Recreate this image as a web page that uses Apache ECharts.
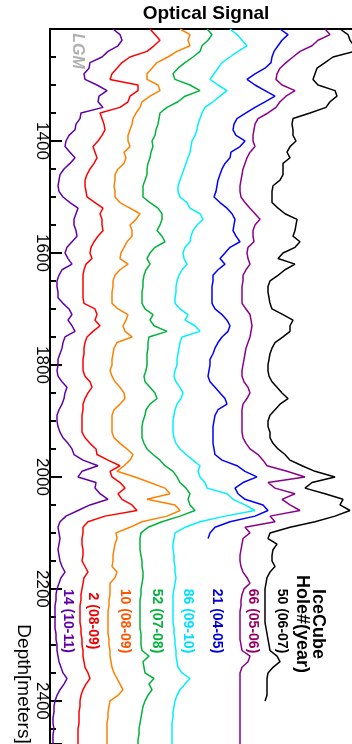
<!DOCTYPE html>
<html>
<head>
<meta charset="utf-8">
<script src="https://cdn.jsdelivr.net/npm/echarts@6/dist/echarts.min.js"></script>
<style>
  html, body { margin: 0; padding: 0; background: #fff; }
  #chart { width: 352px; height: 744px; }
</style>
</head>
<body>
<div id="chart"></div>
<script>
// depth grid: every 10 m from 1200 m
const depthStart = 1200
const depthStep = 10
const depthTicks = [1400, 1600, 1800, 2000, 2200, 2400]

// signal (offset units = px right of the depth axis)
const hole14 = [
  63, 70, 72, 68, 58, 52, 40, 39, 34, 35,
  47, 57, 49, 48, 53, 31, 30, 26, 25, 19,
  16, 15, 20, 25, 20, 14, 10, 9, 8, 9,
  13, 20, 28, 26, 24, 24, 26, 27, 22, 17,
  15, 18, 22, 12, 9, 7, 7, 8, 8, 13,
  19, 22, 18, 22, 25, 15, 13, 12, 10, 8,
  8, 7, 8, 12, 17, 15, 14, 12, 9, 7,
  7, 8, 10, 13, 18, 22, 24, 33, 48, 32,
  28, 46, 45, 50, 58, 40, 28, 16, 10, 8,
  9, 10, 9, 8, 9, 10, 12, 15, 11, 9,
  7, 6, 6, 5, 5, 5, 5, 5, 6, 6,
  7, 7, 8, 9, 11, 13, 17, 14, 10, 7,
  5, 4, 4, 3, 3, 4, 3, 3, 3
]
const hole2 = [
  100, 105, 110, 104, 97, 80, 72, 67, 62, 60,
  88, 88, 80, 78, 70, 50, 52, 54, 55, 52,
  48, 43, 45, 47, 44, 40, 37, 35, 35, 36,
  37, 45, 53, 50, 52, 52, 53, 48, 44, 41,
  40, 42, 36, 34, 33, 33, 33, 33, 33, 34,
  45, 47, 45, 50, 43, 37, 35, 34, 34, 33,
  33, 33, 35, 40, 42, 38, 35, 33, 33, 32,
  32, 32, 32, 35, 40, 46, 47, 58, 70, 60,
  62, 70, 75, 68, 72, 82, 87, 55, 38, 33,
  33, 32, 32, 33, 33, 32, 35, 38, 34, 33,
  32, 31, 31, 30, 30, 30, 30, 31, 31, 32,
  32, 33, 33, 34, 35, 38, 40, 36, 33, 31,
  30, 30, 29, 29, 29, 28, 28, 28, 28
]
const hole10 = [
  130, 140, 138, 140, 127, 118, 107, 102, 97, 97,
  108, 110, 100, 92, 90, 86, 83, 82, 80, 78,
  78, 80, 74, 76, 74, 68, 65, 65, 64, 65,
  65, 70, 80, 90, 86, 80, 82, 82, 77, 74,
  71, 70, 78, 70, 65, 63, 63, 62, 62, 62,
  68, 78, 76, 73, 75, 82, 67, 64, 63, 62,
  62, 60, 62, 65, 70, 74, 75, 70, 64, 62,
  62, 62, 62, 64, 70, 77, 83, 80, 74, 67,
  85, 100, 115, 120, 97, 125, 130, 117, 92, 80,
  66, 67, 65, 64, 63, 63, 62, 67, 65, 60,
  60, 60, 59, 59, 58, 58, 58, 58, 58, 59,
  59, 60, 60, 61, 62, 64, 67, 70, 73, 68,
  60, 59, 58, 58, 57, 57, 57, 57, 57
]
const hole52 = [
  157, 162, 158, 152, 150, 143, 135, 128, 123, 125,
  140, 150, 135, 128, 117, 110, 109, 108, 106, 105,
  102, 103, 101, 100, 98, 97, 97, 95, 93, 93,
  93, 100, 108, 112, 112, 110, 107, 112, 115, 105,
  100, 97, 100, 96, 94, 93, 93, 92, 92, 92,
  95, 103, 100, 104, 117, 99, 98, 98, 97, 97,
  97, 96, 94, 95, 100, 105, 107, 100, 96, 95,
  93, 92, 92, 92, 94, 97, 103, 110, 115, 123,
  127, 130, 136, 140, 138, 140, 145, 130, 112, 98,
  91, 90, 90, 90, 91, 92, 92, 93, 93, 92,
  91, 91, 90, 90, 90, 90, 90, 90, 91, 91,
  91, 92, 99, 93, 94, 95, 104, 99, 102, 98,
  95, 93, 92, 91, 90, 89, 89, 88, 88
]
const hole86 = [
  180, 187, 192, 197, 188, 180, 172, 168, 164, 160,
  168, 177, 170, 163, 155, 152, 150, 148, 147, 145,
  142, 141, 140, 138, 136, 134, 132, 130, 128, 128,
  130, 137, 140, 150, 153, 147, 143, 141, 140, 135,
  133, 134, 137, 132, 129, 127, 126, 126, 125, 125,
  130, 138, 135, 145, 150, 132, 130, 129, 128, 127,
  127, 125, 124, 126, 130, 133, 131, 127, 125, 124,
  123, 123, 123, 124, 126, 130, 136, 143, 150, 148,
  150, 155, 157, 177, 183, 195, 205, 175, 150, 135,
  125, 124, 123, 123, 124, 124, 125, 125, 126, 125,
  124, 123, 123, 123, 123, 123, 123, 124, 124, 125,
  125, 126, 126, 127, 128, 132, 140, 135, 130, 127,
  125, 124, 123, 123, 122, 122, 122, 122, 122
]
const hole21 = [
  230, 238, 232, 228, 224, 222, 221, 215, 205, 197,
  205, 215, 225, 215, 205, 196, 187, 184, 183, 186,
  195, 190, 181, 180, 175, 172, 170, 168, 167, 166,
  164, 170, 177, 182, 185, 184, 183, 186, 190, 180,
  175, 170, 175, 168, 163, 163, 162, 162, 162, 162,
  165, 172, 177, 180, 178, 172, 168, 165, 163, 160,
  160, 159, 158, 160, 165, 170, 175, 177, 168, 165,
  164, 163, 163, 163, 163, 164, 165, 172, 187, 195,
  207, 193, 185, 188, 195, 213, 218, 205, 180, 165,
  160, 158
]
const hole66 = [
  275, 280, 268, 262, 250, 243, 236, 230, 227, 226,
  232, 245, 236, 230, 226, 218, 208, 205, 204, 203,
  203, 205, 200, 197, 195, 193, 192, 191, 190, 190,
  191, 195, 200, 205, 210, 205, 203, 203, 204, 198,
  197, 198, 200, 196, 193, 193, 192, 192, 192, 192,
  196, 200, 201, 202, 201, 200, 198, 196, 195, 194,
  193, 192, 192, 194, 198, 200, 197, 193, 192, 192,
  192, 192, 192, 193, 196, 200, 208, 213, 217, 237,
  255, 218, 225, 245, 232, 240, 250, 220, 225, 195,
  200, 193, 192, 191, 190, 190, 191, 193, 197, 200,
  194, 192, 191, 191, 190, 190, 190, 190, 190, 190,
  191, 192, 200, 198, 192, 190, 190, 190, 190, 190,
  190, 190, 190, 190, 190, 190, 190, 190, 190
]
const hole50 = [
  290, 298, 300, 304, 304, 283, 275, 267, 265, 263,
  268, 285, 287, 280, 276, 260, 243, 242, 243, 243,
  246, 240, 237, 240, 233, 233, 233, 230, 223, 222,
  222, 222, 228, 235, 247, 246, 245, 243, 250, 245,
  233, 228, 245, 235, 228, 220, 218, 218, 219, 220,
  222, 233, 243, 240, 240, 233, 225, 222, 220, 219,
  218, 218, 219, 222, 227, 232, 238, 230, 225, 220,
  218, 218, 220, 220, 223, 228, 235, 240, 252, 265,
  285, 262, 255, 275, 293, 290, 300, 285, 265, 240,
  220, 218, 227, 223, 222, 222, 225, 220, 217, 216,
  215, 215, 215, 215, 215, 215, 215, 216, 217, 218,
  219, 220, 227, 230, 223, 218, 217, 217, 217, 217,
  215
]

const holes = [
  { name: '14 (10-11)', data: hole14, color: '#6200a8', text: '#6200a8', x: 68 },
  { name: '2 (08-09)', data: hole2, color: '#ff0000', text: '#ee0000', x: 93 },
  { name: '10 (08-09)', data: hole10, color: '#ff8000', text: '#ff5500', x: 125 },
  { name: '52 (07-08)', data: hole52, color: '#00b33c', text: '#00b33c', x: 157 },
  { name: '86 (09-10)', data: hole86, color: '#00f0ff', text: '#00e0ff', x: 188 },
  { name: '21 (04-05)', data: hole21, color: '#0000ff', text: '#0000dd', x: 217 },
  { name: '66 (05-06)', data: hole66, color: '#8b008b', text: '#990066', x: 253 },
  { name: '50 (06-07)', data: hole50, color: '#000000', text: '#000000', x: 282 }
]

const font = 'Liberation Sans'
let mychart = echarts.init(document.getElementById('chart'))

// rotated text helper (reads top to bottom)
function vtext(x, y, text, size, color, weight, style) {
  return {
    type: 'text',
    x: x,
    y: y,
    rotation: -Math.PI / 2,
    style: {
      text: text,
      fill: color,
      font: (style || 'normal') + ' ' + (weight || 'normal') + ' ' + size + 'px "' + font + '"',
      textAlign: 'center',
      textVerticalAlign: 'middle'
    }
  }
}

const graphics = [
  {
    type: 'text',
    x: 206,
    y: 14,
    style: {
      text: 'Optical Signal',
      fill: '#000',
      font: 'bold 19px "' + font + '"',
      textAlign: 'center',
      textVerticalAlign: 'middle'
    }
  },
  vtext(77, 51, 'LGM', 16, '#b0b0b0', 'bold', 'italic'),
  vtext(23, 684, 'Depth[meters]', 19, '#000'),
  vtext(318, 624, 'IceCube', 18, '#000', 'bold'),
  vtext(302, 624, 'Hole#(year)', 18, '#000', 'bold')
]
holes.forEach(h => graphics.push(vtext(h.x, 621, h.name, 14, h.text, 'bold')))

mychart.setOption({
  animation: false,
  grid: { left: 50, right: 0, top: 29, bottom: 0 },
  xAxis: {
    type: 'value',
    position: 'top',
    min: 0,
    max: 302,
    axisLine: { show: true, lineStyle: { color: '#000', width: 2 } },
    axisTick: { show: false },
    axisLabel: { show: false },
    splitLine: { show: false }
  },
  yAxis: {
    type: 'value',
    inverse: true,
    min: 1200,
    max: 2477,
    interval: 200,
    axisLine: { show: true, lineStyle: { color: '#000', width: 2 } },
    axisTick: { show: true, inside: true, length: 12, lineStyle: { color: '#000', width: 2 } },
    minorTick: { show: true, splitNumber: 4, length: 6, lineStyle: { color: '#000', width: 2 } },
    axisLabel: {
      rotate: -90,
      margin: 0,
      fontSize: 17,
      color: '#000',
      fontFamily: font,
      showMinLabel: false,
      showMaxLabel: false,
      formatter: v => (depthTicks.indexOf(v) >= 0 ? String(v) : '')
    },
    splitLine: { show: false }
  },
  series: holes.map(h => ({
    name: h.name,
    type: 'line',
    symbol: 'none',
    clip: true,
    lineStyle: { color: h.color, width: 1.5 },
    data: h.data.map((v, i) => [v, depthStart + i * depthStep])
  })),
  graphic: graphics
})
</script>
</body>
</html>
